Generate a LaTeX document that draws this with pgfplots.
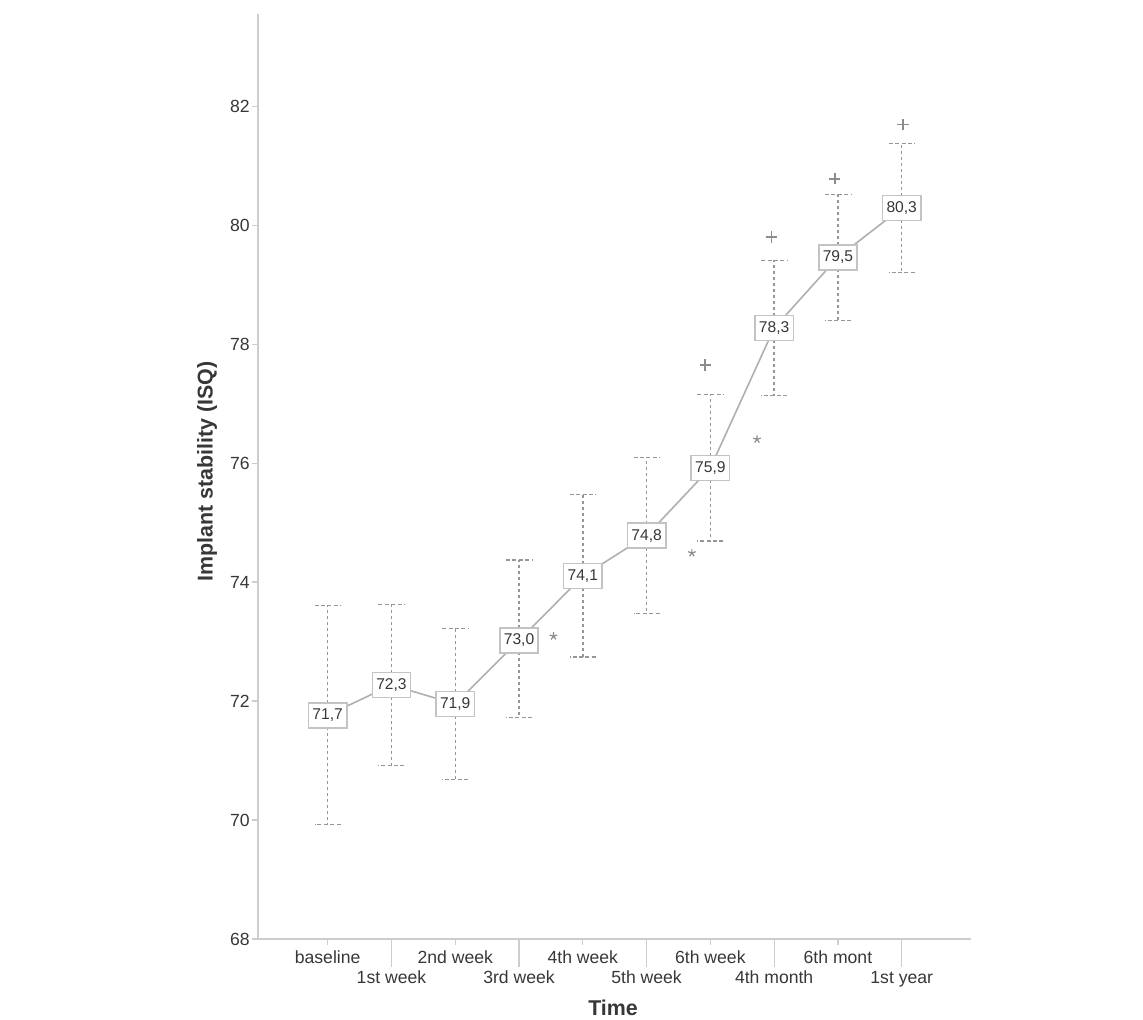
\documentclass[border=0pt]{standalone}
\usepackage{pgfplots}
\pgfplotsset{compat=1.18}
\usepackage{pgfplotstable}
\usepackage{fontspec}
\setmainfont{Liberation Sans}
\definecolor{axisgray}{RGB}{205,205,205}
\definecolor{txtgray}{RGB}{55,55,55}
\definecolor{errgray}{RGB}{150,150,150}
\definecolor{linegray}{RGB}{175,175,175}
\definecolor{boxgray}{RGB}{195,195,195}
\definecolor{outgray}{RGB}{140,140,140}

\pgfplotstableread{
x  y      ep    em    lab
0  71.76  1.84  1.84  71,7
1  72.27  1.35  1.36  72,3
2  71.95  1.27  1.27  71,9
3  73.02  1.35  1.30  73,0
4  74.10  1.37  1.36  74,1
5  74.78  1.32  1.31  74,8
6  75.92  1.23  1.23  75,9
7  78.27  1.14  1.14  78,3
8  79.46  1.06  1.06  79,5
9  80.29  1.08  1.09  80,3
}\means

\begin{document}
\begin{tikzpicture}
\path[use as bounding box] (0,0) rectangle (571.5pt,510pt);
\begin{axis}[
  at={(129pt,40.5pt)}, anchor=south west,
  scale only axis, width=356.5pt, height=462.5pt,
  xmin=-1.092, xmax=10.086, ymin=68, ymax=83.55,
  axis lines=left,
  axis line style={-, draw=axisgray, line width=1pt},
  tick align=outside,
  tick style={draw=axisgray, line width=0.6pt},
  major tick length=3pt,
  ytick={68,70,...,82},
  yticklabel style={font=\fontsize{8.8pt}{10pt}\selectfont, text=txtgray, inner sep=1pt},
  /pgf/number format/assume math mode=true,
  xtick={0,2,4,6,8},
  xticklabels={baseline,2nd week,4th week,6th week,6th mont},
  xticklabel style={font=\fontsize{8.8pt}{10pt}\selectfont, text=txtgray, inner sep=0pt, anchor=base, yshift=-9.5pt},
  extra x ticks={1,3,5,7,9},
  extra x tick labels={1st week,3rd week,5th week,4th month,1st year},
  extra x tick style={major tick length=14pt, xticklabel style={yshift=1.5pt}},
  xlabel={\textbf{Time}},
  ylabel={\textbf{Implant stability (ISQ)}},
  label style={font=\fontsize{10.7pt}{12pt}\selectfont, text=txtgray},
  xlabel style={at={(axis description cs:0.498,-0.0746)}, anchor=center},
  ylabel style={at={(axis description cs:-0.0715,0.505)}, anchor=center},
  clip=false,
]
% error bars
\addplot[draw=none, mark=none,
  error bars/.cd, y dir=both, y explicit,
  error bar style={draw=errgray, line width=0.7pt, dash pattern=on 1.5pt off 1.5pt},
  error mark options={draw=errgray, line width=0.6pt, mark size=6.5pt, rotate=90, dash pattern=on 2pt off 1.2pt}]
  table[x=x, y=y, y error plus=ep, y error minus=em] {\means};
% outliers: circles (+) and extremes (*)
\addplot[only marks, mark=+, mark size=2.8pt, draw=outgray, line width=0.8pt]
  coordinates {(5.92,77.65) (6.96,79.80) (7.95,80.78) (9.02,81.69)};
\addplot[only marks, mark=star, mark size=2pt, draw=outgray, fill=outgray, line width=0.6pt]
  coordinates {(3.54,73.09) (5.71,74.49) (6.73,76.40)};
% mean line with value boxes
\addplot[draw=linegray, line width=0.8pt, mark=none,
  point meta=explicit symbolic,
  nodes near coords={\pgfplotspointmeta},
  every node near coord/.append style={anchor=center, draw=boxgray, fill=white, line width=0.75pt,
    font=\fontsize{7.8pt}{9pt}\selectfont, text=txtgray, inner xsep=2pt, inner ysep=0pt,
    minimum height=12.5pt, minimum width=18pt}]
  table[x=x, y=y, meta=lab] {\means};
\end{axis}
\end{tikzpicture}
\end{document}
